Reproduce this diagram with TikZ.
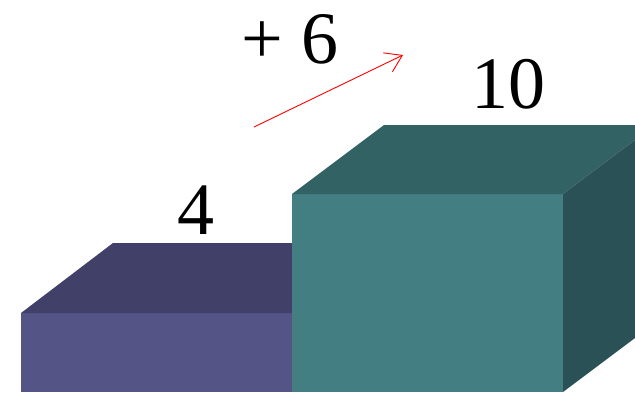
\documentclass[tikz,border=0pt]{standalone}
\usepackage{fontspec}
\setmainfont{Liberation Serif}
\usetikzlibrary{arrows.meta}
\definecolor{purpfront}{HTML}{545487}
\definecolor{purptop}{HTML}{404068}
\definecolor{tealfront}{HTML}{427E82}
\definecolor{tealtop}{HTML}{326264}
\definecolor{tealside}{HTML}{2A5156}
\tikzset{
  face/.style={draw=none},
  numlabel/.style={anchor=base, inner sep=0pt, font=\fontsize{74}{80}\selectfont},
  growarrow/.style={draw=red, line width=0.9pt, -{Straight Barb[length=16pt, width=21pt, line width=0.9pt]}}
}
\begin{document}
\begin{tikzpicture}[x=1pt, y=-1pt]
\useasboundingbox (0,0) rectangle (635,392);
% purple box
\fill[purpfront, face] (21,313) rectangle (300,392);
\fill[purptop, face] (21,313) -- (113,243) -- (300,243) -- (300,313) -- cycle;
% teal box
\fill[tealfront, face] (292,194) rectangle (563,392);
\fill[tealtop, face] (292,194) -- (384,125) -- (655,125) -- (563,194) -- cycle;
\fill[tealside, face] (563,194) -- (655,125) -- (655,323) -- (563,392) -- cycle;
% labels
\node[numlabel] (four) at (196,234) {4};
\node[numlabel] (ten) at (508,108) {10};
\node[numlabel] (plus) at (290,63) {+ 6};
% arrow
\coordinate (arrS) at (254,127);
\coordinate (arrE) at (403,55);
\draw[growarrow] (arrS) -- (arrE);
\end{tikzpicture}
\end{document}
